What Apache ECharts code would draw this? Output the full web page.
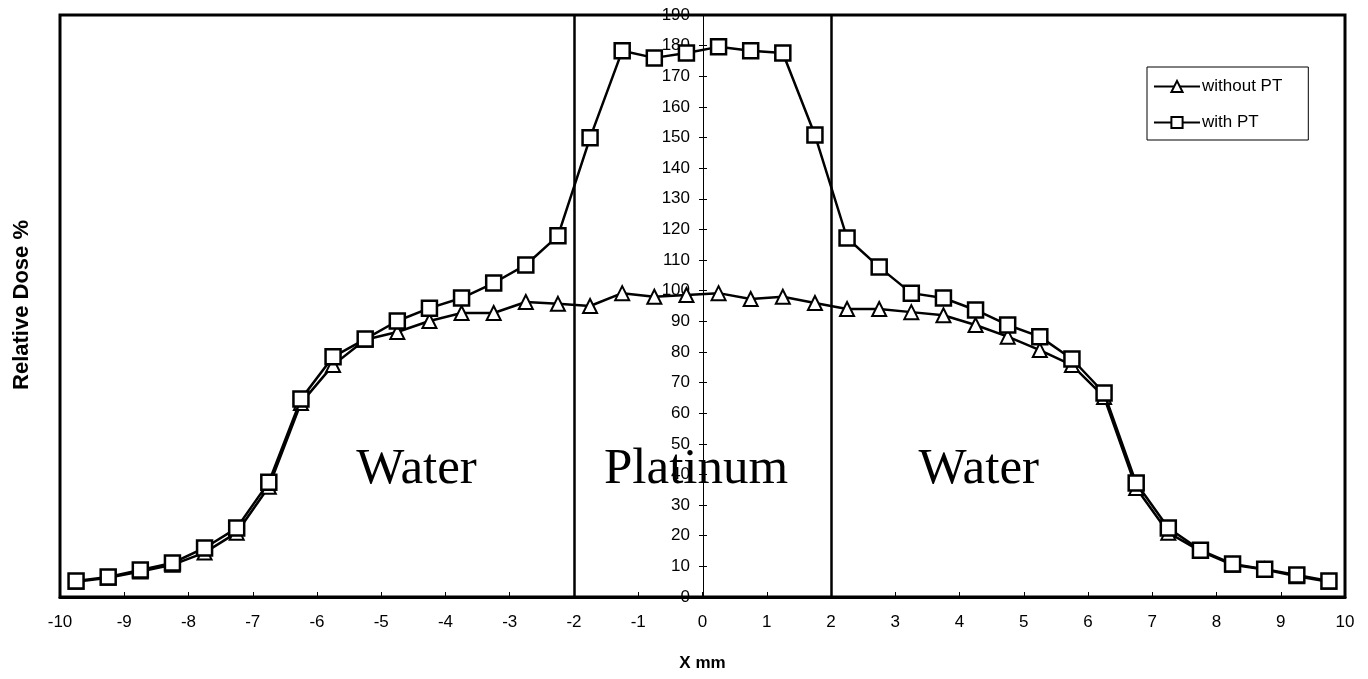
<!DOCTYPE html>
<html>
<head>
<meta charset="utf-8">
<script src="https://cdn.jsdelivr.net/npm/echarts@6/dist/echarts.min.js"></script>
<style>
  html, body { margin: 0; padding: 0; background: #fff; }
  #chart { width: 1368px; height: 679px; }
</style>
</head>
<body>
<div id="chart"></div>
<script>
// positions along X (mm)
var xPos = [-9.75, -9.25, -8.75, -8.25, -7.75, -7.25, -6.75, -6.25, -5.75, -5.25,
            -4.75, -4.25, -3.75, -3.25, -2.75, -2.25, -1.75, -1.25, -0.75, -0.25,
            0.25, 0.75, 1.25, 1.75, 2.25, 2.75, 3.25, 3.75, 4.25, 4.75,
            5.25, 5.75, 6.25, 6.75, 7.25, 7.75, 8.25, 8.75, 9.25, 9.75];
var withoutPT = [5, 6.3, 8.3, 10.5, 14.5, 21, 36, 63.3, 75.7, 84,
                 86.5, 90.1, 92.7, 92.7, 96.3, 95.7, 95, 99.2, 98, 98.6,
                 99.2, 97.3, 98, 96, 94, 94, 93, 92, 88.8, 85,
                 80.6, 75.7, 65.3, 35.6, 21, 15, 10.5, 9, 6.8, 5];
var withPT = [5.2, 6.5, 8.8, 11.1, 16, 22.5, 37.5, 64.6, 78.4, 84.2,
              90.1, 94.3, 97.6, 102.5, 108.4, 117.9, 149.9, 178.3, 176, 177.6,
              179.6, 178.3, 177.6, 150.8, 117.2, 107.7, 99.2, 97.6, 93.7, 88.8,
              85, 77.7, 66.6, 37.2, 22.5, 15.3, 10.8, 9.1, 7.2, 5.2];
var regionLines = [-2, 2];
var regionLabels = [
  { name: 'Water', coord: [-4.45, 41.5] },
  { name: 'Platinum', coord: [-0.1, 41.5] },
  { name: 'Water', coord: [4.3, 41.5] }
];

function pairs(xs, ys) {
  var out = [];
  for (var i = 0; i < xs.length; i++) {
    out.push([xs[i], ys[i]]);
  }
  return out;
}

var chart = echarts.init(document.getElementById('chart'));

var FONT = 'Liberation Sans, Arial, sans-serif';
// y axis sits at x = 0 mm, in the middle of the plot
var yOffset = -643;

var option = {
  animation: false,
  backgroundColor: '#fff',
  grid: {
    left: 60,
    right: 23,
    top: 15,
    bottom: 82,
    show: true,
    borderColor: '#000',
    borderWidth: 3,
    backgroundColor: 'transparent'
  },
  legend: {
    orient: 'vertical',
    left: 1147,
    top: 67,
    padding: [11, 26, 9, 6],
    itemGap: 19,
    itemWidth: 46,
    itemHeight: 14,
    borderColor: '#000',
    borderWidth: 1,
    borderRadius: 0,
    backgroundColor: '#fff',
    textStyle: {
      color: '#000',
      fontSize: 17,
      fontFamily: FONT,
      padding: [0, 0, 0, -3]
    },
    data: ['without PT', 'with PT']
  },
  xAxis: {
    type: 'value',
    min: -10,
    max: 10,
    interval: 1,
    name: 'X mm',
    nameLocation: 'middle',
    nameGap: 58,
    nameTextStyle: {
      color: '#000',
      fontSize: 17,
      fontWeight: 'bold',
      fontFamily: FONT
    },
    axisLine: { onZero: false, lineStyle: { color: '#000', width: 3 } },
    axisTick: { inside: true, length: 5, lineStyle: { color: '#000', width: 1 } },
    axisLabel: {
      color: '#000',
      fontSize: 17,
      fontFamily: FONT,
      margin: 17
    },
    splitLine: { show: false }
  },
  yAxis: [
    {
      type: 'value',
      min: 0,
      max: 190,
      interval: 10,
      position: 'left',
      offset: yOffset,
      axisLine: { show: true, onZero: false, lineStyle: { color: '#000', width: 1 } },
      axisTick: { show: true, length: 4, lineStyle: { color: '#000', width: 1 } },
      axisLabel: { color: '#000', fontSize: 17, fontFamily: FONT, margin: 13 },
      splitLine: { show: false }
    },
    {
      type: 'value',
      min: 0,
      max: 190,
      interval: 10,
      position: 'left',
      offset: yOffset,
      axisLine: { show: false, onZero: false },
      axisTick: { show: true, inside: true, length: 4, lineStyle: { color: '#000', width: 1 } },
      axisLabel: { show: false },
      splitLine: { show: false }
    }
  ],
  graphic: [
    {
      type: 'text',
      rotation: Math.PI / 2,
      x: 22,
      y: 305,
      style: {
        text: 'Relative Dose %',
        fill: '#000',
        fontSize: 22,
        fontWeight: 'bold',
        fontFamily: FONT,
        align: 'center',
        verticalAlign: 'middle'
      }
    }
  ],
  series: [
    {
      name: 'without PT',
      type: 'line',
      data: pairs(xPos, withoutPT),
      symbol: 'triangle',
      symbolSize: 14,
      lineStyle: { color: '#000', width: 2.5 },
      itemStyle: { color: '#fff', borderColor: '#000', borderWidth: 2 },
      markLine: {
        silent: true,
        symbol: ['none', 'none'],
        label: { show: false },
        lineStyle: { color: '#000', width: 2.5, type: 'solid' },
        data: regionLines.map(function (v) { return { xAxis: v }; })
      },
      markPoint: {
        silent: true,
        symbol: 'circle',
        symbolSize: 0,
        label: {
          show: true,
          position: 'inside',
          formatter: '{b}',
          color: '#000',
          fontSize: 51,
          fontFamily: 'Liberation Serif, Times New Roman, serif'
        },
        data: regionLabels.map(function (d) { return { name: d.name, coord: d.coord }; })
      },
      z: 3
    },
    {
      name: 'with PT',
      type: 'line',
      data: pairs(xPos, withPT),
      symbol: 'rect',
      symbolSize: 15,
      lineStyle: { color: '#000', width: 2.5 },
      itemStyle: { color: '#fff', borderColor: '#000', borderWidth: 2.5 },
      z: 4
    }
  ]
};

chart.setOption(option);
</script>
</body>
</html>
